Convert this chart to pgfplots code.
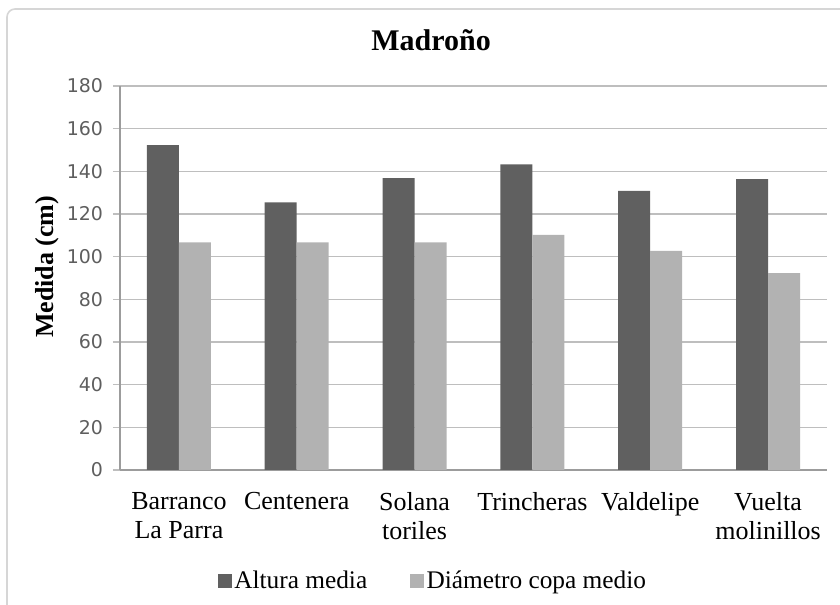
\documentclass[border=0pt]{standalone}
\usepackage{fontspec}
\setmainfont{Liberation Serif}
\newfontfamily\tickfont{DejaVu Sans}
\usepackage{pgfplots}
\pgfplotsset{compat=1.18}

\definecolor{darkbar}{HTML}{606060}
\definecolor{lightbar}{HTML}{B2B2B2}
\definecolor{gridgray}{HTML}{BEBEBE}
\definecolor{axisgray}{HTML}{9C9C9C}
\definecolor{tickgray}{HTML}{5E5E5E}
\definecolor{framegray}{HTML}{D6D6D6}

\begin{document}
\begin{tikzpicture}[x=0.75pt,y=0.75pt]
% picture is 840 x 605 px, 1 px = 0.75pt, y counted from the bottom
\useasboundingbox (0,0) rectangle (840,605);
\draw[framegray, line width=1.2pt, rounded corners=6pt] (7,596) rectangle (852,-10);
\begin{axis}[
    at={(90pt,101.25pt)},
    anchor=south west,
    scale only axis,
    width=530.25pt,
    height=288pt,
    ybar=0pt,
    bar width=24pt,
    xmin=-0.5, xmax=5.5,
    ymin=0, ymax=180,
    xtick={0,1,2,3,4,5},
    xticklabels={{Barranco\\La Parra},Centenera,{Solana\\toriles},Trincheras,Valdelipe,{Vuelta\\molinillos}},
    ytick={0,20,...,180},
    major x tick style={draw=none},
    axis x line*=bottom,
    axis y line*=left,
    axis line style={axisgray, line width=0.9pt, -},
    tick align=outside,
    major tick length=5.25pt,
    y tick style={gridgray, line width=0.9pt},
    ymajorgrids=true,
    grid style={gridgray, line width=0.9pt},
    /pgf/number format/assume math mode=true,
    yticklabel style={font=\tickfont\fontsize{14.2}{16}\selectfont, text=tickgray, xshift=-4pt},
    xticklabel style={font=\fontsize{19.5}{21.75}\selectfont, align=center, yshift=-8pt},
    ylabel={\textbf{Medida (cm)}},
    ylabel style={font=\fontsize{19.5}{22}\selectfont, at={(axis description cs:-0.103,0.529)}, anchor=center},
    title={\textbf{Madroño}},
    title style={font=\fontsize{22.5}{26}\selectfont, at={(axis description cs:0.44,1.099)}, anchor=center},
    legend style={at={(axis description cs:0.443,-0.288)}, anchor=center, draw=none, fill=none,
        font=\fontsize{19}{22}\selectfont, legend columns=2,
        /tikz/every even column/.append style={column sep=30pt}},
    legend image code/.code={\fill[#1] (0pt,-5.25pt) rectangle (10.5pt,5.25pt);},
]
\addplot[fill=darkbar, draw=none] coordinates {
    (0,152.3) (1,125.5) (2,136.8) (3,143.3) (4,130.8) (5,136.3)
};
\addplot[fill=lightbar, draw=none] coordinates {
    (0,106.7) (1,106.7) (2,106.7) (3,110.2) (4,102.7) (5,92.3)
};
\legend{Altura media, Diámetro copa medio}
\end{axis}
\end{tikzpicture}
\end{document}
